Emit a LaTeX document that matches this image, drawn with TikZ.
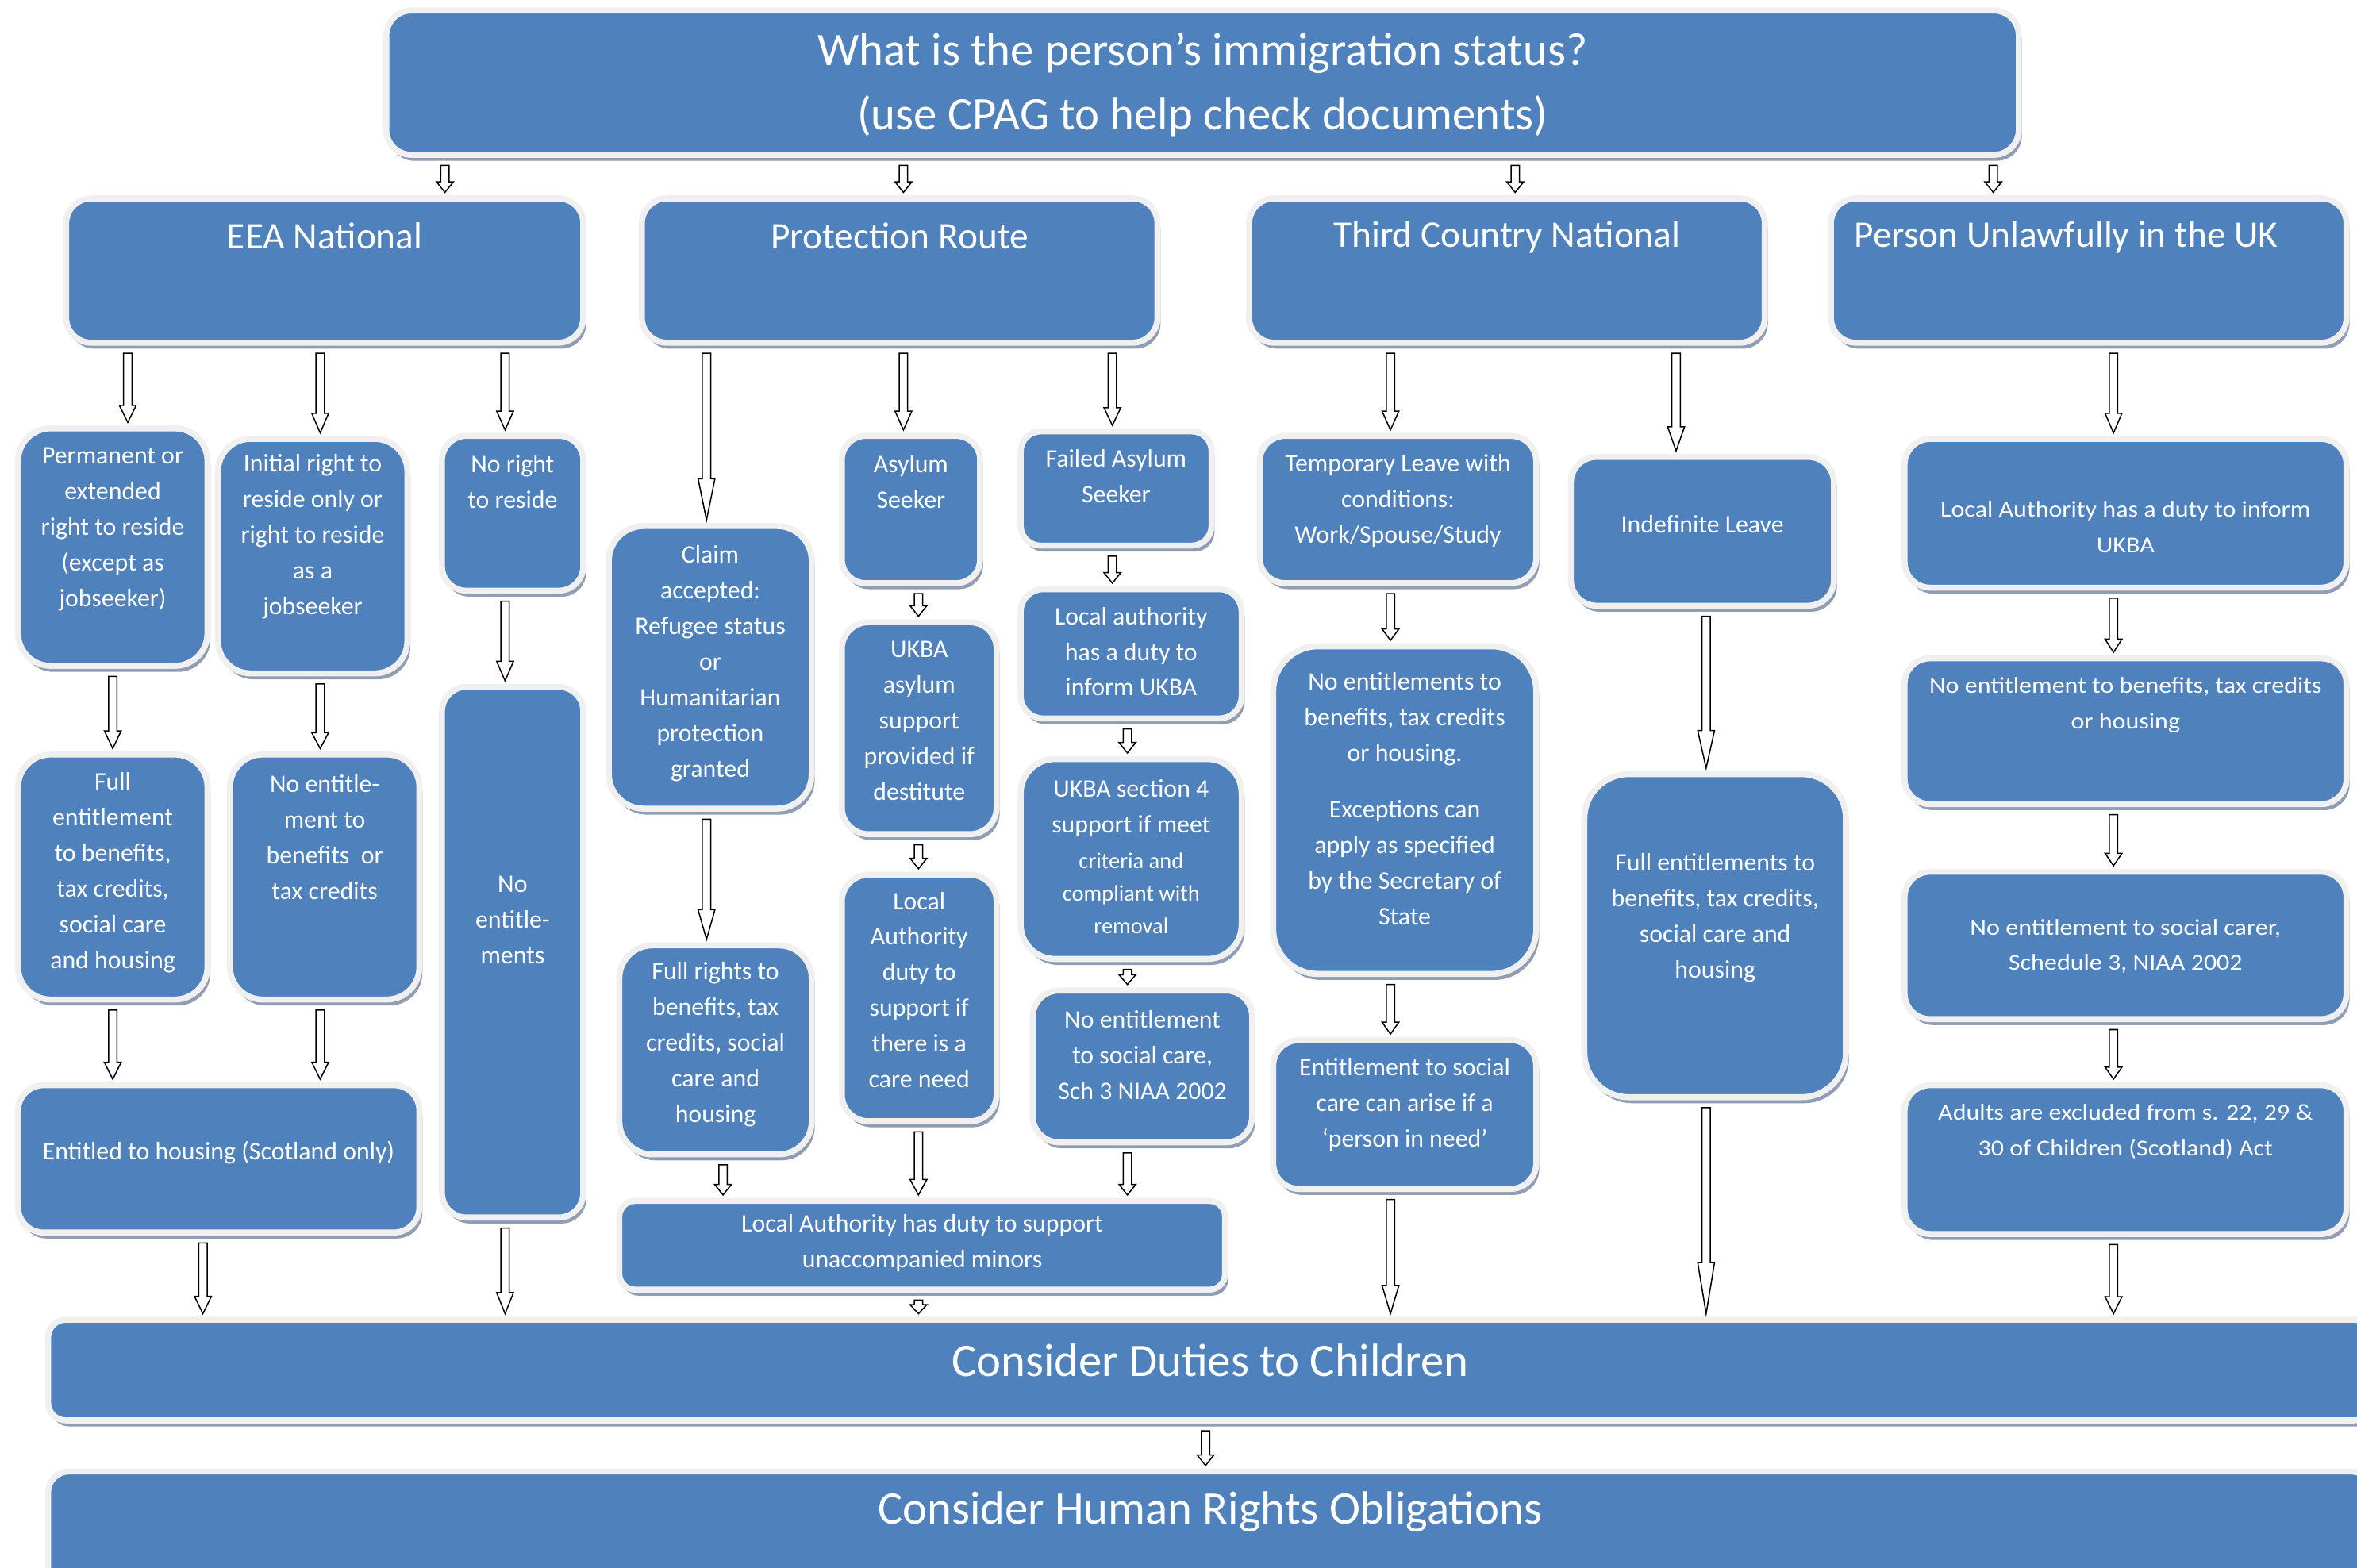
\documentclass[tikz,border=0pt]{standalone}
\usepackage{fontspec}
\setmainfont{Carlito}
\newfontfamily\widefont[FakeStretch=1.12]{Carlito}
\usepackage{tikz}
\usetikzlibrary{calc,shadows}

\definecolor{boxblue}{HTML}{4F81BD}
\definecolor{boxrim}{HTML}{F0F0F0}
\definecolor{boxshade}{HTML}{919DB2}

\newcommand{\critfont}{\fontsize{15}{22}\selectfont}

% box: [text style]{name}{x1}{y1}{x2}{y2}{text shift}{text}
\newcommand{\flowbox}[8][boxtext]{%
	\pgfmathsetmacro{\fbw}{#5-#3-4}%
	\pgfmathsetmacro{\fbh}{#6-#4-4}%
	\pgfmathsetmacro{\fbr}{min(#5-#3,#6-#4)/6}%
	\node[box, rounded corners=\fbr pt, minimum width=\fbw pt, minimum height=\fbh pt,
		label={[#1, yshift=#7pt]center:{#8}}] (#2) at ({(#3+#5)/2},{-(#4+#6)/2}) {};}

% hollow down arrow at x, from one box to the next
\newcommand{\flowarrow}[3]{%
	\draw[blockarrow] let \p1=(#1,0 |- #2.south), \p2=(#1,0 |- #3.north),
		\n1={max(0.25*(\y1-\y2), min(0.5*(\y1-\y2), 9pt))} in
		(\x1-2.8pt,\y1-5pt) -- (\x1-2.8pt,\y2+\n1) -- (\x1-5.6pt,\y2+\n1)
		-- (\x1,\y2+2pt) -- (\x1+5.6pt,\y2+\n1) -- (\x1+2.8pt,\y2+\n1)
		-- (\x1+2.8pt,\y1-5pt) -- cycle;}

\begin{document}
\begin{tikzpicture}[x=1pt, y=1pt,
	box/.style={draw=boxrim, line width=4pt, fill=boxblue,
		drop shadow={shadow xshift=2pt, shadow yshift=-4pt, fill=boxshade, opacity=1}},
	boxtext/.style={text=white, align=center, inner sep=0pt, font=\fontsize{16.8}{23.7}\selectfont},
	headtext/.style={boxtext, font=\fontsize{25}{30}\selectfont},
	bigtext/.style={boxtext, font=\fontsize{31}{43}\selectfont},
	widetext/.style={boxtext, font=\widefont\fontsize{15.1}{23.7}\selectfont},
	blockarrow/.style={draw=black, fill=white, line width=0.8pt, line join=miter}]
	\path[use as bounding box, fill=white] (0,0) rectangle (1568,-1043);

	% question at the top
	\flowbox[bigtext]{top}{255}{5}{1345}{105}{-1.5}{What is the person’s immigration status?\\(use CPAG to help check documents)}
	% the four routes
	\flowbox[headtext]{eea}{42}{130}{390}{230}{23}{EEA National}
	\flowbox[headtext]{prot}{425}{130}{772}{230}{23}{Protection Route}
	\flowbox[headtext]{third}{829}{130}{1176}{230}{22}{Third Country National}
	\flowbox[headtext, xshift=-15pt]{unlaw}{1216}{130}{1563}{230}{22}{Person Unlawfully in the UK}

	% EEA National
	\flowbox{perm}{10}{283}{140}{445}{12}{Permanent or\\extended\\right to reside\\(except as\\jobseeker)}
	\flowbox{init}{143}{290}{273}{450}{13}{Initial right to\\reside only or\\right to reside\\as a\\jobseeker}
	\flowbox{noright}{292}{288}{390}{395}{21}{No right\\to reside}
	\flowbox{fullent}{10}{500}{140}{667}{3}{Full\\entitlement\\to benefits,\\tax credits,\\social care\\and housing}
	\flowbox{noent}{151}{500}{281}{667}{26.5}{No entitle-\\ment to\\benefits~ or\\tax credits}
	\flowbox{noents}{292}{455}{390}{812}{21.5}{No\\entitle-\\ments}
	\flowbox{housing}{10}{720}{281}{822}{4}{Entitled to housing (Scotland only)}

	% Protection Route
	\flowbox{claim}{403}{348}{542}{540}{2.5}{Claim\\accepted:\\Refugee status\\or\\Humanitarian\\protection\\granted}
	\flowbox{asylum}{558}{288}{654}{390}{18.5}{Asylum\\Seeker}
	\flowbox{failed}{677}{285}{808}{365}{8}{Failed Asylum\\Seeker}
	\flowbox{ukba}{558}{412}{665}{557}{5}{UKBA\\asylum\\support\\provided if\\destitute}
	\flowbox{lainform}{677}{390}{828}{480}{1.5}{Local authority\\has a duty to\\inform UKBA}
	\flowbox{lacare}{558}{580}{665}{748}{5.5}{Local\\Authority\\duty to\\support if\\there is a\\care need}
	\flowbox{sect4}{677}{503}{828}{640}{1.5}{UKBA section 4\\support if meet\\\critfont criteria and\\[-2pt]\critfont compliant with\\[-2pt]\critfont removal}
	\flowbox{sch3}{685}{657}{835}{762}{7.5}{No entitlement\\to social care,\\Sch 3 NIAA 2002}
	\flowbox{fullrights}{410}{627}{542}{770}{3.5}{Full rights to\\benefits, tax\\credits, social\\care and\\housing}
	\flowbox{minors}{410}{797}{817}{860}{1.5}{Local Authority has duty to support\\unaccompanied minors}

	% Third Country National
	\flowbox{temp}{836}{288}{1024}{390}{6}{Temporary Leave with\\conditions:\\Work/Spouse/Study}
	\flowbox{indef}{1043}{302}{1222}{405}{4.5}{Indefinite Leave}
	\flowbox{noentsec}{845}{428}{1024}{650}{7.5}{No entitlements to\\benefits, tax credits\\or housing.\\[14pt]Exceptions can\\apply as specified\\by the Secretary of\\State}
	\flowbox{fullents}{1052}{513}{1230}{732}{12}{Full entitlements to\\benefits, tax credits,\\social care and\\housing}
	\flowbox{inneed}{845}{690}{1024}{793}{6.5}{Entitlement to social\\care can arise if a\\‘person in need’}

	% Person Unlawfully in the UK
	\flowbox[widetext]{uinform}{1265}{290}{1563}{393}{-9}{Local Authority has a duty to inform\\UKBA}
	\flowbox[widetext]{unoben}{1265}{436}{1563}{537}{17.5}{No entitlement to benefits, tax credits\\or housing}
	\flowbox[widetext]{unocare}{1265}{578}{1563}{680}{-0.5}{No entitlement to social carer,\\Schedule 3, NIAA 2002}
	\flowbox[widetext]{adults}{1265}{720}{1563}{823}{18.5}{Adults are excluded from s. 22, 29 \&\\30 of Children (Scotland) Act}

	% last two steps
	\flowbox[bigtext]{children}{30}{876}{1580}{947}{6.5}{Consider Duties to Children}
	\flowbox[bigtext]{rights}{30}{977}{1580}{1060}{12.5}{Consider Human Rights Obligations}

	% arrows
	\flowarrow{296}{top}{eea}
	\flowarrow{601}{top}{prot}
	\flowarrow{1008}{top}{third}
	\flowarrow{1326}{top}{unlaw}
	\flowarrow{85}{eea}{perm}
	\flowarrow{213}{eea}{init}
	\flowarrow{336}{eea}{noright}
	\flowarrow{75}{perm}{fullent}
	\flowarrow{213}{init}{noent}
	\flowarrow{336}{noright}{noents}
	\flowarrow{75}{fullent}{housing}
	\flowarrow{213}{noent}{housing}
	\flowarrow{135}{housing}{children}
	\flowarrow{336}{noents}{children}
	\flowarrow{470}{prot}{claim}
	\flowarrow{601}{prot}{asylum}
	\flowarrow{740}{prot}{failed}
	\flowarrow{611}{asylum}{ukba}
	\flowarrow{740}{failed}{lainform}
	\flowarrow{611}{ukba}{lacare}
	\flowarrow{750}{lainform}{sect4}
	\flowarrow{750}{sect4}{sch3}
	\flowarrow{470}{claim}{fullrights}
	\flowarrow{481}{fullrights}{minors}
	\flowarrow{611}{lacare}{minors}
	\flowarrow{750}{sch3}{minors}
	\flowarrow{611}{minors}{children}
	\flowarrow{925}{third}{temp}
	\flowarrow{1115}{third}{indef}
	\flowarrow{925}{temp}{noentsec}
	\flowarrow{1135}{indef}{fullents}
	\flowarrow{925}{noentsec}{inneed}
	\flowarrow{925}{inneed}{children}
	\flowarrow{1135}{fullents}{children}
	\flowarrow{1406}{unlaw}{uinform}
	\flowarrow{1406}{uinform}{unoben}
	\flowarrow{1406}{unoben}{unocare}
	\flowarrow{1406}{unocare}{adults}
	\flowarrow{1406}{adults}{children}
	\flowarrow{802}{children}{rights}
\end{tikzpicture}
\end{document}
